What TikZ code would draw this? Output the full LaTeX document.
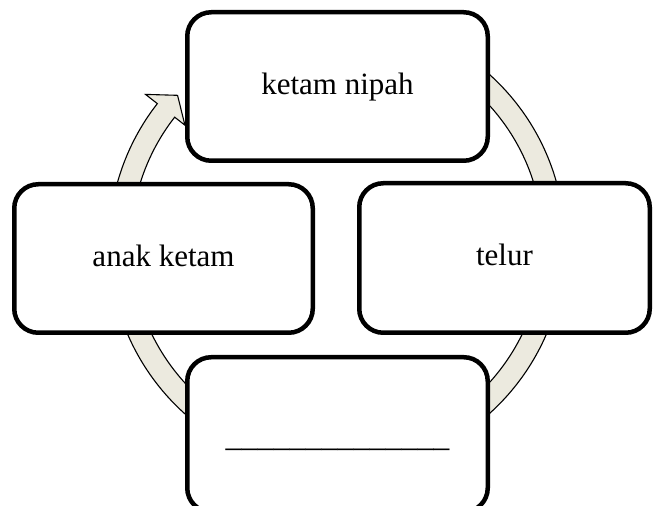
\documentclass[tikz,border=0pt]{standalone}
\usepackage{fontspec}
\setmainfont{Liberation Serif}
\definecolor{ringfill}{RGB}{236,234,223}
\tikzset{
  cyclebox/.style={draw=black, line width=4.5pt, rounded corners=24pt, fill=white,
    inner sep=0pt, text height=22pt, text depth=6pt, font=\fontsize{31}{37}\selectfont},
  ringarrow/.style={draw=black, line width=1.1pt, fill=ringfill, line join=miter}
}
\begin{document}
\begin{tikzpicture}[x=1pt,y=1pt]
\useasboundingbox (0,0) rectangle (654,506);
\clip (0,0) rectangle (654,506);
% ring arrows (clockwise)
\begin{scope}[shift={(337,262)}]
\draw[ringarrow] (195:228) arc[start angle=195, end angle=142, radius=228]
  -- (142:243) -- (137:218) -- (142:193) -- (142:206)
  arc[start angle=142, end angle=195, radius=206] -- cycle;
\draw[ringarrow] (80:228) arc[start angle=80, end angle=10, radius=228]
  -- (10:243) -- (5:218) -- (10:193) -- (10:206)
  arc[start angle=10, end angle=80, radius=206] -- cycle;
\draw[ringarrow] (-10:228) arc[start angle=-10, end angle=-60, radius=228]
  -- (-60:243) -- (-65:218) -- (-60:193) -- (-60:206)
  arc[start angle=-60, end angle=-10, radius=206] -- cycle;
\draw[ringarrow] (-120:228) arc[start angle=-120, end angle=-165, radius=228]
  -- (-165:243) -- (-170:218) -- (-165:193) -- (-165:206)
  arc[start angle=-165, end angle=-120, radius=206] -- cycle;
\end{scope}
% boxes
\node[cyclebox, minimum width=300.5pt, minimum height=148.5pt] (top) at (337.5,419.5) {ketam nipah};
\node[cyclebox, minimum width=290.5pt, minimum height=149.5pt] (right) at (504.5,248) {telur};
\node[cyclebox, minimum width=300.5pt, minimum height=154.75pt, text height=26pt, text depth=2pt, font=\fontsize{32}{38}\selectfont] (bottom) at (337.5,71.4) {\_\_\_\_\_\_\_\_\_\_\_\_\_\_};
\node[cyclebox, minimum width=298.5pt, minimum height=148.5pt] (left) at (163.5,247.5) {anak ketam};
\end{tikzpicture}
\end{document}
